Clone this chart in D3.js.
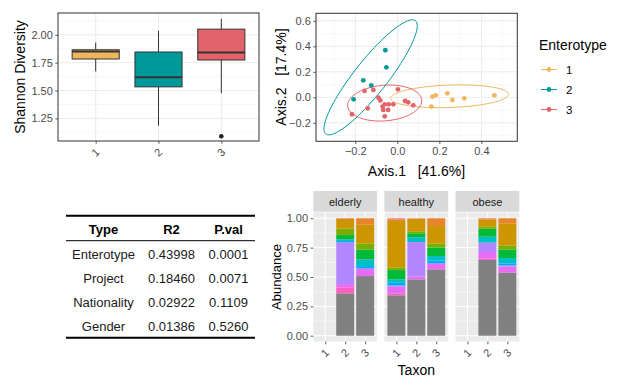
<!DOCTYPE html>
<html>
<head>
<meta charset="utf-8">
<title>Enterotype summary</title>
<script src="https://d3js.org/d3.v7.min.js"></script>
<style>
  body { margin: 0; background: #fff; }
  text { font-family: "Liberation Sans", Arial, sans-serif; }
</style>
</head>
<body>
<script>
// ---------------- data ----------------
var boxGroups = ["1", "2", "3"];
var boxColors = ["#EFB65E", "#009999", "#E2636A"];
var whiskerLow  = [1.672, 1.184, 1.476];
var q1          = [1.783, 1.533, 1.774];
var median      = [1.851, 1.619, 1.842];
var q3          = [1.866, 1.846, 2.051];
var whiskerHigh = [1.931, 2.036, 2.143];
var outlierGroup = ["3"];
var outlierValue = [1.09];
var boxTicks = [1.25, 1.50, 1.75, 2.00];

// PCoA points
var pcoaGroup = ["2","2","2","2","2",
                 "1","1","1","1","1","1","1",
                 "3","3","3","3","3","3","3","3","3","3","3","3","3","3","3","3","3"];
var pcoaX = [-0.057,-0.052,-0.162,-0.124,-0.208,
             0.167,0.183,0.238,0.262,0.319,0.462,0.162,
             -0.156,-0.114,0.003,-0.090,-0.081,-0.216,-0.141,-0.070,-0.060,-0.041,-0.019,-0.044,-0.067,-0.060,0.037,0.052,0.076];
var pcoaY = [0.369,0.235,0.133,0.094,-0.016,
             0.005,0.016,0.031,-0.021,-0.008,0.016,-0.073,
             0.050,0.058,0.063,-0.003,-0.024,-0.133,-0.086,-0.073,-0.055,-0.055,-0.055,-0.099,-0.099,-0.149,-0.029,-0.039,-0.063];
// ellipses: centre, end of major axis, minor/major ratio
var ellGroup   = ["1", "2", "3"];
var ellCenterX = [0.249, -0.127, -0.060];
var ellCenterY = [0.008, 0.157, -0.045];
var ellTipX    = [0.530, 0.086, 0.116];
var ellTipY    = [0.024, 0.601, -0.021];
var ellRatio   = [0.19, 0.23, 0.48];
var pcoaXTicks = [-0.2, 0.0, 0.2, 0.4];
var pcoaYTicks = [-0.2, 0.0, 0.2, 0.4, 0.6];

// adonis table
var tabType = ["Enterotype", "Project", "Nationality", "Gender"];
var tabR2   = ["0.43998", "0.18460", "0.02922", "0.01386"];
var tabP    = ["0.0001", "0.0071", "0.1109", "0.5260"];

// stacked abundance bars
var facets = ["elderly", "healthy", "obese"];
var taxonCats = ["1", "2", "3"];
var barFacet = ["elderly","elderly","healthy","healthy","healthy","obese","obese"];
var barTaxon = ["2","3","1","2","3","2","3"];
var layerKeys   = ["other","pink","magenta","purple","blue","cyan","green","olive","mustard","orange","salmon"];
var layerColors = ["#808080","#FF61C3","#E76BF3","#B385FF","#00A9FF","#00BFC4","#00BA38","#7CAE00","#CD9600","#E8852A","#F8766D"];
var other   = [0.361,0.508,0.344,0.480,0.565,0.645,0.537];
var pink    = [0.051,0.000,0.017,0.000,0.000,0.011,0.000];
var magenta = [0.028,0.051,0.056,0.023,0.051,0.057,0.051];
var purple  = [0.355,0.017,0.011,0.295,0.000,0.079,0.011];
var blue    = [0.011,0.017,0.023,0.000,0.023,0.000,0.017];
var cyan    = [0.015,0.057,0.029,0.040,0.040,0.051,0.046];
var green   = [0.036,0.085,0.079,0.034,0.073,0.068,0.073];
var olive   = [0.057,0.051,0.023,0.017,0.034,0.017,0.034];
var mustard = [0.080,0.159,0.395,0.108,0.148,0.063,0.188];
var orange  = [0.000,0.055,0.014,0.000,0.066,0.000,0.043];
var salmon  = [0.006,0.000,0.009,0.003,0.000,0.009,0.000];
var abTicks = [0, 0.25, 0.5, 0.75, 1];

// ---------------- drawing ----------------
var svg = d3.select("body").append("svg").attr("width", 629).attr("height", 389);
var fmt2 = d3.format(".2f"), fmt1 = d3.format(".1f");

function styleAxis(g, size) {
  g.select(".domain").remove();
  g.selectAll(".tick line").attr("stroke", "#333").attr("stroke-width", 0.8);
  g.selectAll(".tick text").attr("fill", "#4D4D4D").style("font-size", size + "px");
}

// ===== boxplot =====
var bx = d3.scalePoint().domain(boxGroups).range([58, 259]).padding(0.6);
var by = d3.scaleLinear().domain([1.047, 2.196]).range([141, 13]);
var boxG = svg.append("g");
boxG.selectAll(".minor").data([1.125, 1.375, 1.625, 1.875, 2.125]).enter().append("line")
  .attr("x1", 58).attr("x2", 259).attr("y1", by).attr("y2", by)
  .attr("stroke", "#F2F2F2").attr("stroke-width", 0.6);
boxG.selectAll(".majorY").data(boxTicks).enter().append("line")
  .attr("x1", 58).attr("x2", 259).attr("y1", by).attr("y2", by)
  .attr("stroke", "#EBEBEB").attr("stroke-width", 1);
boxG.selectAll(".majorX").data(boxGroups).enter().append("line")
  .attr("y1", 13).attr("y2", 141).attr("x1", bx).attr("x2", bx)
  .attr("stroke", "#EBEBEB").attr("stroke-width", 1);

var bw = bx.step() * 0.75;
boxGroups.forEach(function(g, i) {
  var cx = bx(g);
  boxG.append("line").attr("x1", cx).attr("x2", cx).attr("y1", by(whiskerLow[i])).attr("y2", by(q1[i]))
    .attr("stroke", "#333").attr("stroke-width", 1);
  boxG.append("line").attr("x1", cx).attr("x2", cx).attr("y1", by(q3[i])).attr("y2", by(whiskerHigh[i]))
    .attr("stroke", "#333").attr("stroke-width", 1);
  boxG.append("rect").attr("x", cx - bw / 2).attr("width", bw)
    .attr("y", by(q3[i])).attr("height", by(q1[i]) - by(q3[i]))
    .attr("fill", boxColors[i]).attr("stroke", "#333").attr("stroke-width", 1);
  boxG.append("line").attr("x1", cx - bw / 2).attr("x2", cx + bw / 2)
    .attr("y1", by(median[i])).attr("y2", by(median[i]))
    .attr("stroke", "#333").attr("stroke-width", 2);
});
boxG.selectAll(".out").data(outlierValue).enter().append("circle")
  .attr("cx", function(d, i) { return bx(outlierGroup[i]); })
  .attr("cy", by).attr("r", 2.3).attr("fill", "#222");
boxG.append("rect").attr("x", 58).attr("y", 13).attr("width", 201).attr("height", 128)
  .attr("fill", "none").attr("stroke", "#333").attr("stroke-width", 1);

boxG.append("g").attr("transform", "translate(58,0)")
  .call(d3.axisLeft(by).tickValues(boxTicks).tickFormat(fmt2).tickSize(2.7).tickPadding(2.5))
  .call(styleAxis, 11);
var bxAxis = boxG.append("g").attr("transform", "translate(0,141)")
  .call(d3.axisBottom(bx).tickSize(2.7).tickPadding(2)).call(styleAxis, 11);
bxAxis.selectAll(".tick text").attr("y", 0).attr("dy", 0)
  .attr("transform", "translate(2,14) rotate(-45)").attr("text-anchor", "middle");
boxG.append("text").attr("transform", "translate(25,77) rotate(-90)")
  .attr("text-anchor", "middle").style("font-size", "14px").attr("fill", "#000")
  .text("Shannon Diversity");

// ===== PCoA scatter =====
var sx = d3.scaleLinear().domain([-0.387, 0.571]).range([316, 517.3]);
var sy = d3.scaleLinear().domain([-0.345, 0.659]).range([141.3, 13.3]);
var colorOf = d3.scaleOrdinal().domain(boxGroups).range(boxColors);
var sc = svg.append("g");
sc.selectAll(".mx").data([-0.3, -0.1, 0.1, 0.3, 0.5]).enter().append("line")
  .attr("x1", sx).attr("x2", sx).attr("y1", 13.3).attr("y2", 141.3)
  .attr("stroke", "#F2F2F2").attr("stroke-width", 0.6);
sc.selectAll(".my").data([-0.3, -0.1, 0.1, 0.3, 0.5]).enter().append("line")
  .attr("y1", sy).attr("y2", sy).attr("x1", 316).attr("x2", 517.3)
  .attr("stroke", "#F2F2F2").attr("stroke-width", 0.6);
sc.selectAll(".Mx").data(pcoaXTicks).enter().append("line")
  .attr("x1", sx).attr("x2", sx).attr("y1", 13.3).attr("y2", 141.3)
  .attr("stroke", "#EBEBEB").attr("stroke-width", 1);
sc.selectAll(".My").data(pcoaYTicks).enter().append("line")
  .attr("y1", sy).attr("y2", sy).attr("x1", 316).attr("x2", 517.3)
  .attr("stroke", "#EBEBEB").attr("stroke-width", 1);

var ellLine = d3.line().curve(d3.curveLinearClosed);
ellGroup.forEach(function(g, i) {
  var cx = sx(ellCenterX[i]), cy = sy(ellCenterY[i]);
  var ux = sx(ellTipX[i]) - cx, uy = sy(ellTipY[i]) - cy;
  var a = Math.sqrt(ux * ux + uy * uy), b = a * ellRatio[i];
  var vx = -uy / a * b, vy = ux / a * b;
  var pts = d3.range(0, 2 * Math.PI, Math.PI / 60).map(function(t) {
    return [cx + Math.cos(t) * ux + Math.sin(t) * vx, cy + Math.cos(t) * uy + Math.sin(t) * vy];
  });
  sc.append("path").attr("d", ellLine(pts)).attr("fill", "none")
    .attr("stroke", colorOf(g)).attr("stroke-width", 1);
});
sc.selectAll(".pt").data(pcoaX).enter().append("circle")
  .attr("cx", sx).attr("cy", function(d, i) { return sy(pcoaY[i]); })
  .attr("r", 2.4).attr("fill", function(d, i) { return colorOf(pcoaGroup[i]); });
sc.append("rect").attr("x", 316).attr("y", 13.3).attr("width", 201.3).attr("height", 128)
  .attr("fill", "none").attr("stroke", "#333").attr("stroke-width", 1);
sc.append("g").attr("transform", "translate(316,0)")
  .call(d3.axisLeft(sy).tickValues(pcoaYTicks).tickFormat(fmt1).tickSize(2.7).tickPadding(2.5))
  .call(styleAxis, 11);
sc.append("g").attr("transform", "translate(0,141.3)")
  .call(d3.axisBottom(sx).tickValues(pcoaXTicks).tickFormat(fmt1).tickSize(2.7).tickPadding(3))
  .call(styleAxis, 11);
sc.append("text").attr("transform", "translate(286,77) rotate(-90)")
  .attr("text-anchor", "middle").style("font-size", "14px").style("white-space", "pre")
  .text("Axis.2   [17.4%]");
sc.append("text").attr("x", 416.5).attr("y", 176)
  .attr("text-anchor", "middle").style("font-size", "14px").style("white-space", "pre")
  .text("Axis.1   [41.6%]");

// legend
var leg = svg.append("g");
leg.append("text").attr("x", 539).attr("y", 50).style("font-size", "14px").text("Enterotype");
boxGroups.forEach(function(g, i) {
  var yy = 69.5 + i * 20;
  leg.append("line").attr("x1", 541).attr("x2", 557).attr("y1", yy).attr("y2", yy)
    .attr("stroke", colorOf(g)).attr("stroke-width", 1);
  leg.append("circle").attr("cx", 549).attr("cy", yy).attr("r", 2.4).attr("fill", colorOf(g));
  leg.append("text").attr("x", 566).attr("y", yy + 4).style("font-size", "11.5px").text(g);
});

// ===== table =====
var tb = svg.append("g");
var colX = [103.5, 171.5, 228.5];
tb.append("line").attr("x1", 66).attr("x2", 255).attr("y1", 215.7).attr("y2", 215.7)
  .attr("stroke", "#000").attr("stroke-width", 2);
tb.append("line").attr("x1", 66).attr("x2", 255).attr("y1", 240.7).attr("y2", 240.7)
  .attr("stroke", "#000").attr("stroke-width", 1);
tb.append("line").attr("x1", 66).attr("x2", 255).attr("y1", 337.7).attr("y2", 337.7)
  .attr("stroke", "#000").attr("stroke-width", 2);
["Type", "R2", "P.val"].forEach(function(h, j) {
  tb.append("text").attr("x", colX[j]).attr("y", 233.5).attr("text-anchor", "middle")
    .style("font-size", "13px").style("font-weight", "bold").text(h);
});
tabType.forEach(function(t, i) {
  var yy = 258.5 + i * 24.3;
  [t, tabR2[i], tabP[i]].forEach(function(v, j) {
    tb.append("text").attr("x", colX[j]).attr("y", yy).attr("text-anchor", "middle")
      .style("font-size", "13px").attr("fill", "#1A1A1A").text(v);
  });
});

// ===== stacked bars =====
var fx = d3.scaleBand().domain(facets).range([313.3, 519.3]).paddingInner(0.1027);
var ay = d3.scaleLinear().domain([-0.05, 1.05]).range([341.6, 212.4]);
var rows = barFacet.map(function(f, i) {
  var r = { facet: f, taxon: barTaxon[i] };
  r.other = other[i]; r.pink = pink[i]; r.magenta = magenta[i]; r.purple = purple[i];
  r.blue = blue[i]; r.cyan = cyan[i]; r.green = green[i]; r.olive = olive[i];
  r.mustard = mustard[i]; r.orange = orange[i]; r.salmon = salmon[i];
  return r;
});
var stacked = d3.stack().keys(layerKeys)(rows);
var bars = svg.append("g");
facets.forEach(function(f) {
  var x0 = fx(f), w = fx.bandwidth();
  var px = d3.scaleLinear().domain([0.4, 3.6]).range([x0, x0 + w]);
  var p = bars.append("g");
  p.append("rect").attr("x", x0).attr("y", 191).attr("width", w).attr("height", 20.7).attr("fill", "#D9D9D9");
  p.append("text").attr("x", x0 + w / 2).attr("y", 205.5).attr("text-anchor", "middle")
    .style("font-size", "11px").attr("fill", "#1A1A1A").text(f);
  p.append("rect").attr("x", x0).attr("y", 212.4).attr("width", w).attr("height", 129.2).attr("fill", "#EBEBEB");
  p.selectAll(".mn").data([0.125, 0.375, 0.625, 0.875]).enter().append("line")
    .attr("x1", x0).attr("x2", x0 + w).attr("y1", ay).attr("y2", ay)
    .attr("stroke", "#fff").attr("stroke-width", 0.5);
  p.selectAll(".mj").data(abTicks).enter().append("line")
    .attr("x1", x0).attr("x2", x0 + w).attr("y1", ay).attr("y2", ay)
    .attr("stroke", "#fff").attr("stroke-width", 1);
  p.selectAll(".vx").data([1, 2, 3]).enter().append("line")
    .attr("x1", px).attr("x2", px).attr("y1", 212.4).attr("y2", 341.6)
    .attr("stroke", "#fff").attr("stroke-width", 1);
  stacked.forEach(function(layer, k) {
    layer.forEach(function(s, i) {
      if (rows[i].facet !== f || s[1] - s[0] <= 0) return;
      var c = +rows[i].taxon;
      p.append("rect").attr("x", px(c - 0.45)).attr("width", px(c + 0.45) - px(c - 0.45))
        .attr("y", ay(s[1])).attr("height", ay(s[0]) - ay(s[1]))
        .attr("fill", layerColors[k]);
    });
  });
  var xa = p.append("g").attr("transform", "translate(0,341.6)")
    .call(d3.axisBottom(px).tickValues([1, 2, 3]).tickFormat(function(d) { return taxonCats[d - 1]; }).tickSize(2.7))
    .call(styleAxis, 11);
  xa.selectAll(".tick text").attr("y", 0).attr("dy", 0)
    .attr("transform", "translate(2,14) rotate(-45)").attr("text-anchor", "middle");
});
svg.append("g").attr("transform", "translate(313.3,0)")
  .call(d3.axisLeft(ay).tickValues(abTicks).tickFormat(fmt2).tickSize(2.7).tickPadding(2.5))
  .call(styleAxis, 11);
svg.append("text").attr("transform", "translate(281,277) rotate(-90)")
  .attr("text-anchor", "middle").style("font-size", "13px").text("Abundance");
svg.append("text").attr("x", 416.3).attr("y", 375).attr("text-anchor", "middle")
  .style("font-size", "14px").text("Taxon");
</script>
</body>
</html>
